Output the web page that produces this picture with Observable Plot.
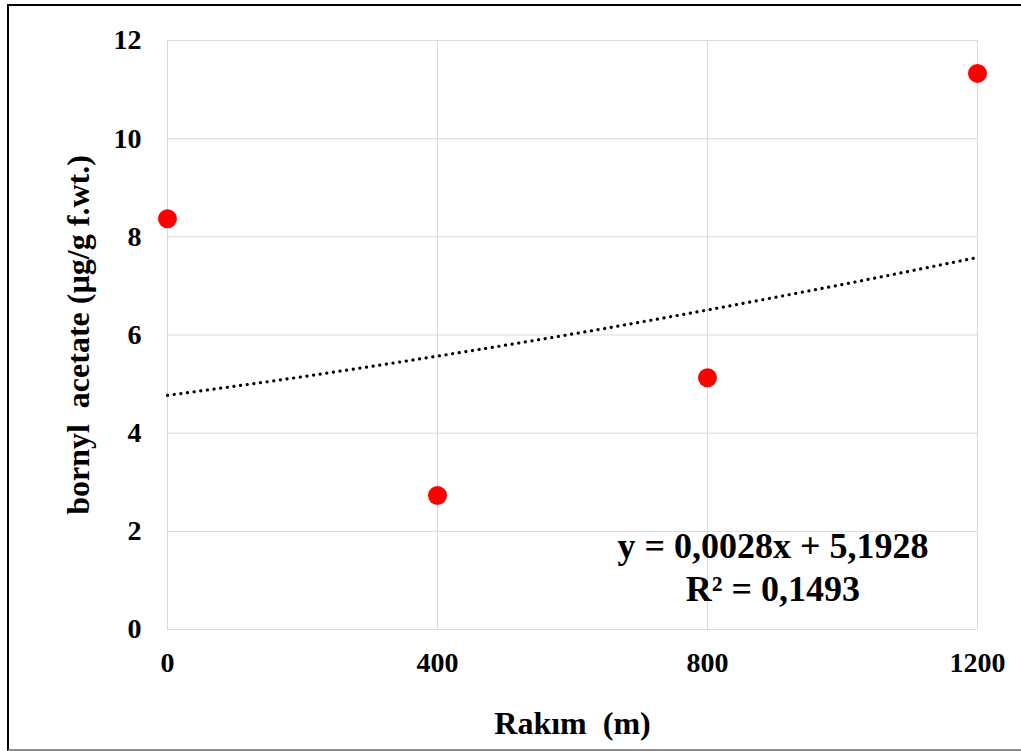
<!DOCTYPE html>
<html>
<head>
<meta charset="utf-8">
<script src="https://cdn.jsdelivr.net/npm/d3@7"></script>
<script src="https://cdn.jsdelivr.net/npm/@observablehq/plot@0.6"></script>
<style>
  html, body { margin: 0; padding: 0; background: #fff; overflow: hidden; }
  #frame {
    position: absolute; left: 7px; top: 4px; width: 1100px; height: 743px;
    border-top: 2px solid #000; border-left: 2px solid #000; border-bottom: 2px solid #8c8c8c;
    pointer-events: none;
  }
  #chart { position: absolute; left: 0; top: 0; }
</style>
</head>
<body>
<div id="chart"></div>
<div id="frame"></div>
<script>
// Altitude (m) and bornyl acetate content (µg/g fresh weight)
const altitude = [0, 400, 800, 1200];
const bornylAcetate = [8.37, 2.73, 5.13, 11.33];

// Trend curve sampled along the altitude range
const trendX = [0, 200, 400, 600, 800, 1000, 1200];
const trendY = [4.77, 5.15, 5.57, 6.02, 6.51, 7.03, 7.58];

const xTicks = [0, 400, 800, 1200];
const yTicks = [0, 2, 4, 6, 8, 10, 12];

const equationLines = ["y = 0,0028x + 5,1928", "R² = 0,1493"];
const equationY = [1.69, 0.82];

const points = altitude.map((x, i) => ({x, y: bornylAcetate[i]}));
const trend = trendX.map((x, i) => ({x, y: trendY[i]}));
const equation = equationLines.map((text, i) => ({text, y: equationY[i]}));

const font = "'Liberation Serif', 'Times New Roman', serif";

const chart = Plot.plot({
  width: 1021,
  height: 751,
  marginLeft: 167,
  marginRight: 44,
  marginTop: 40,
  marginBottom: 122,
  style: {fontFamily: font, fontWeight: "bold", fontSize: "28px", color: "#000", background: "transparent"},
  x: {domain: [0, 1200]},
  y: {domain: [0, 12]},
  marks: [
    Plot.gridX(xTicks, {stroke: "#d9d9d9", strokeOpacity: 1, strokeWidth: 1}),
    Plot.gridY(yTicks, {stroke: "#d9d9d9", strokeOpacity: 1, strokeWidth: 1}),
    Plot.axisX(xTicks, {
      tickSize: 0, tickPadding: 23, fontSize: 28, fontWeight: "bold", tickFormat: d => String(d),
      label: "Rakım  (m)", labelAnchor: "center", labelOffset: 104, labelArrow: "none"
    }),
    Plot.axisY(yTicks, {
      tickSize: 0, tickPadding: 26, fontSize: 28, fontWeight: "bold", tickFormat: d => String(d),
      label: "bornyl  acetate (µg/g f.wt.)", labelAnchor: "center", labelOffset: 101, labelArrow: "none"
    }),
    Plot.line(trend, {x: "x", y: "y", curve: "natural", stroke: "#000", strokeWidth: 3.2,
      strokeDasharray: "0.1,6.6", strokeLinecap: "round"}),
    Plot.dot(points, {x: "x", y: "y", r: 9.5, fill: "#ff0000", stroke: "none"}),
    Plot.text(equation, {x: () => 897, y: "y", text: "text", fontSize: 36, fontWeight: "bold",
      lineAnchor: "middle", textAnchor: "middle", fill: "#000"})
  ]
});

// Axis titles share the tick font but are slightly larger
chart.querySelectorAll("g[aria-label='x-axis label'] text, g[aria-label='y-axis label'] text")
  .forEach(t => t.setAttribute("font-size", "32"));

document.getElementById("chart").appendChild(chart);
</script>
</body>
</html>
